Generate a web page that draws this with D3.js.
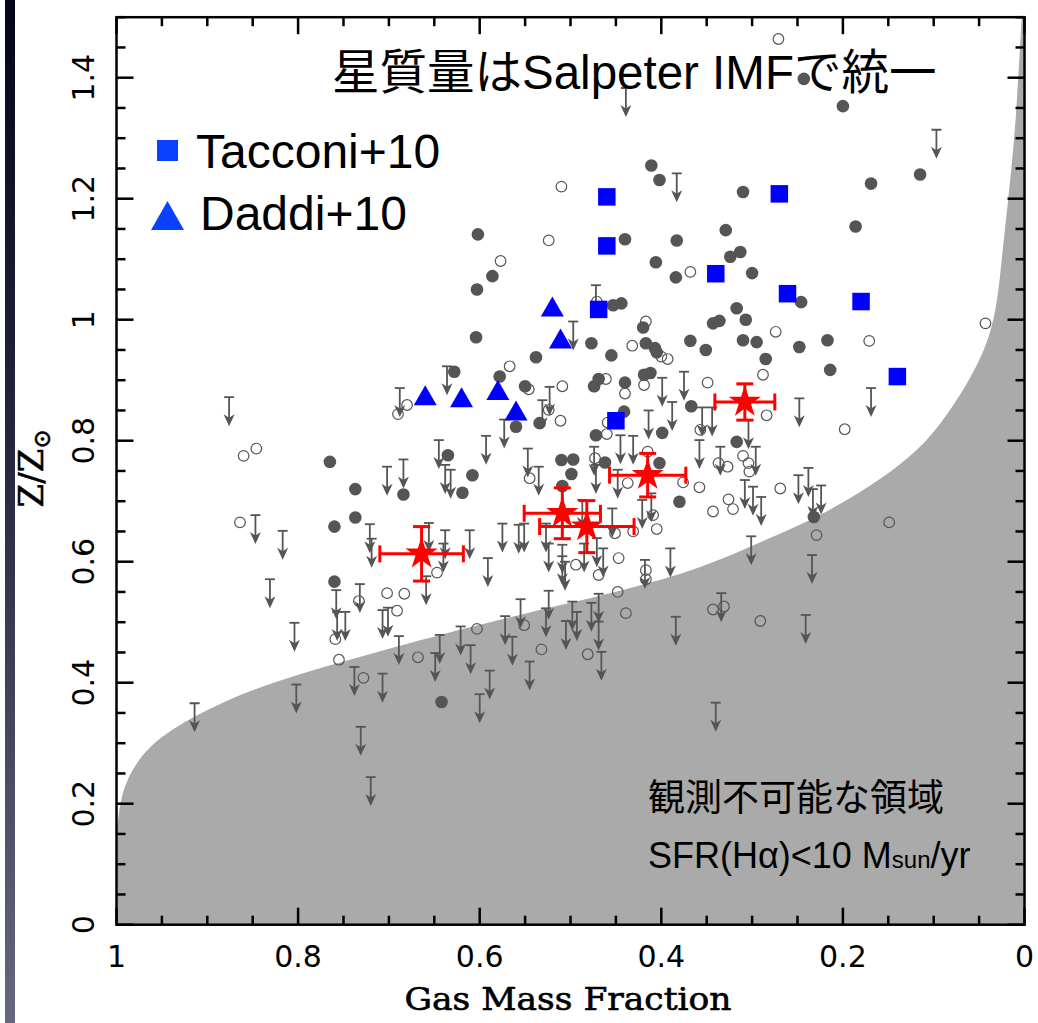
<!DOCTYPE html>
<html>
<head>
<meta charset="utf-8">
<script src="https://cdn.jsdelivr.net/npm/d3@7"></script>
<style>
  html, body { margin: 0; padding: 0; background: #fff; }
  svg { display: block; }
</style>
</head>
<body>
<svg id="chart" width="1038" height="1023"></svg>
<script>
// ---- data: [gas mass fraction, Z/Zsun] ----
const detected = [
  [0.411,1.255],[0.402,1.231],[0.440,1.133],[0.383,1.131],[0.602,1.141],[0.586,1.072],
  [0.603,1.050],[0.406,1.095],[0.384,1.070],[0.453,1.024],[0.444,1.027],[0.420,0.987],
  [0.604,0.971],[0.477,0.961],[0.417,0.961],[0.407,0.953],[0.243,1.398],[0.200,1.353],
  [0.115,1.240],[0.169,1.225],[0.310,1.211],[0.186,1.154],[0.329,1.148],[0.324,1.104],
  [0.313,1.112],[0.300,1.077],[0.246,1.029],[0.317,1.019],[0.343,0.994],[0.336,0.998],
  [0.307,1.000],[0.368,0.965],[0.351,0.950],[0.310,0.966],[0.295,0.963],[0.248,0.955],
  [0.217,0.966],[0.285,0.935],[0.214,0.917],[0.232,0.674],[0.642,0.368],[0.765,0.765],
  [0.737,0.720],[0.684,0.711],[0.635,0.776],[0.760,0.658],[0.737,0.673],[0.760,0.567],
  [0.405,0.946],[0.538,0.938],[0.455,0.941],[0.628,0.914],[0.578,0.906],[0.550,0.890],
  [0.474,0.890],[0.469,0.902],[0.440,0.896],[0.419,0.909],[0.412,0.912],[0.560,0.823],
  [0.534,0.829],[0.441,0.848],[0.472,0.809],[0.399,0.813],[0.367,0.857],[0.317,0.798],
  [0.608,0.743],[0.619,0.714],[0.510,0.768],[0.497,0.769],[0.499,0.745],[0.462,0.764],
  [0.402,0.763],[0.380,0.699],[0.509,0.725]
];

const lowSN = [
  [0.510,1.220],[0.524,1.131],[0.577,1.097],[0.471,1.030],[0.417,0.997],[0.432,0.957],
  [0.271,1.464],[0.368,1.079],[0.043,0.994],[0.274,0.980],[0.171,0.965],[0.288,0.909],
  [0.284,0.842],[0.198,0.819],[0.269,0.721],[0.149,0.665],[0.229,0.644],[0.291,0.502],
  [0.668,0.442],[0.481,0.447],[0.532,0.455],[0.755,0.438],[0.728,0.408],[0.690,0.844],
  [0.680,0.859],[0.860,0.775],[0.846,0.787],[0.864,0.665],[0.647,0.582],[0.733,0.535],
  [0.702,0.548],[0.683,0.547],[0.691,0.519],[0.759,0.472],[0.400,0.939],[0.393,0.935],
  [0.567,0.923],[0.546,0.885],[0.509,0.890],[0.461,0.902],[0.440,0.878],[0.419,0.892],
  [0.349,0.896],[0.524,0.851],[0.511,0.833],[0.459,0.830],[0.460,0.811],[0.357,0.818],
  [0.545,0.738],[0.473,0.771],[0.415,0.782],[0.437,0.730],[0.376,0.731],[0.358,0.723],
  [0.337,0.763],[0.327,0.757],[0.310,0.775],[0.304,0.763],[0.303,0.749],[0.326,0.703],
  [0.321,0.687],[0.343,0.683],[0.409,0.677],[0.405,0.654],[0.431,0.650],[0.451,0.647],
  [0.494,0.595],[0.469,0.578],[0.447,0.606],[0.417,0.586],[0.417,0.571],[0.448,0.550],
  [0.551,0.495],[0.439,0.515],[0.603,0.489],[0.343,0.521],[0.331,0.526]
];

const upperLimits = [
  [0.383,1.242],[0.439,1.383],[0.472,1.057],[0.497,0.997],[0.097,1.314],[0.248,0.870],
  [0.169,0.887],[0.249,0.743],[0.238,0.755],[0.233,0.720],[0.224,0.726],[0.290,0.707],
  [0.234,0.611],[0.241,0.512],[0.340,0.367],[0.600,0.381],[0.707,0.415],[0.649,0.449],
  [0.589,0.420],[0.545,0.435],[0.466,0.451],[0.914,0.366],[0.802,0.397],[0.738,0.426],
  [0.731,0.327],[0.720,0.244],[0.876,0.872],[0.688,0.887],[0.636,0.923],[0.702,0.757],
  [0.684,0.769],[0.645,0.801],[0.638,0.760],[0.847,0.677],[0.817,0.651],[0.721,0.662],
  [0.719,0.638],[0.656,0.664],[0.638,0.652],[0.640,0.630],[0.831,0.571],[0.758,0.553],
  [0.732,0.563],[0.659,0.576],[0.757,0.517],[0.748,0.517],[0.707,0.520],[0.701,0.524],
  [0.804,0.499],[0.689,0.477],[0.644,0.479],[0.399,0.904],[0.375,0.914],[0.523,0.889],
  [0.531,0.867],[0.414,0.850],[0.388,0.864],[0.355,0.855],[0.344,0.855],[0.304,0.834],
  [0.573,0.835],[0.632,0.752],[0.593,0.808],[0.547,0.787],[0.535,0.757],[0.474,0.790],
  [0.472,0.760],[0.445,0.809],[0.431,0.808],[0.448,0.752],[0.358,0.801],[0.335,0.790],
  [0.296,0.790],[0.308,0.735],[0.299,0.724],[0.421,0.702],[0.411,0.713],[0.454,0.688],
  [0.487,0.702],[0.527,0.663],[0.551,0.663],[0.557,0.661],[0.575,0.663],[0.611,0.652],
  [0.591,0.606],[0.524,0.630],[0.509,0.628],[0.509,0.609],[0.506,0.600],[0.485,0.630],
  [0.464,0.622],[0.471,0.639],[0.418,0.603],[0.390,0.622],[0.301,0.642],[0.524,0.552],
  [0.555,0.538],[0.498,0.534],[0.493,0.517],[0.505,0.502],[0.477,0.532],[0.469,0.547],
  [0.469,0.501],[0.527,0.523],[0.572,0.510],[0.564,0.476],[0.621,0.493],[0.610,0.462],
  [0.384,0.509],[0.334,0.548]
];

const tacconi = [
  [0.460,1.203],[0.460,1.122],[0.469,1.017],[0.450,0.833],[0.340,1.076],
  [0.270,1.208],[0.261,1.043],[0.180,1.030],[0.140,0.906]
];

const daddi = [
  [0.660,0.875],[0.620,0.872],[0.580,0.884],[0.560,0.850],[0.520,1.022],[0.511,0.969]
];

// stacked points: [fraction, Z, fraction error, Z error]
const stacked = [
  [0.664,0.613,0.046,0.045],
  [0.509,0.680,0.042,0.042],
  [0.482,0.658,0.052,0.043],
  [0.415,0.743,0.042,0.036],
  [0.308,0.864,0.033,0.030]
];

// SFR(Hα) = 10 Msun/yr detection limit
const limitCurve = [
  [1.000,0.150],[0.998,0.176],[0.995,0.205],[0.990,0.231],[0.982,0.256],[0.971,0.280],
  [0.956,0.303],[0.926,0.334],[0.890,0.362],[0.853,0.386],[0.798,0.414],[0.743,0.438],
  [0.688,0.461],[0.633,0.483],[0.545,0.516],[0.435,0.556],[0.361,0.589],[0.291,0.632],
  [0.218,0.683],[0.145,0.752],[0.108,0.801],[0.071,0.876],[0.045,0.950],[0.033,1.010],
  [0.022,1.143],[0.011,1.308],[0.004,1.474],[0.003,1.500]
];

const xTicks = [1, 0.8, 0.6, 0.4, 0.2, 0];
const xTickLabels = ["1", "0.8", "0.6", "0.4", "0.2", "0"];
const yTicks = [0, 0.2, 0.4, 0.6, 0.8, 1, 1.2, 1.4];
const yTickLabels = ["0", "0.2", "0.4", "0.6", "0.8", "1", "1.2", "1.4"];
const xMinor = d3.range(0, 21).map(i => i * 0.05);
const yMinor = d3.range(0, 31).map(i => i * 0.05);

// ---- layout ----
const svg = d3.select("#chart");
const x = d3.scaleLinear().domain([1, 0]).range([116.5, 1024.5]);
const y = d3.scaleLinear().domain([0, 1.5]).range([924.7, 17.2]);
const X0 = x(1), X1 = x(0), Y0 = y(0), Y1 = y(1.5);

const grey = "#555555";
const blue = "#0000ff";
const red = "#ff0000";

// dark strip on the left edge
const defs = svg.append("defs");
const grad = defs.append("linearGradient").attr("id", "strip")
  .attr("x1", 0).attr("y1", 0).attr("x2", 0).attr("y2", 1);
grad.append("stop").attr("offset", "0%").attr("stop-color", "#04041a");
grad.append("stop").attr("offset", "45%").attr("stop-color", "#27273f");
grad.append("stop").attr("offset", "100%").attr("stop-color", "#67677f");
svg.append("rect").attr("x", 5).attr("y", 0).attr("width", 10).attr("height", 1023)
  .attr("fill", "url(#strip)");

defs.append("clipPath").attr("id", "plotclip").append("rect")
  .attr("x", X0).attr("y", Y1).attr("width", X1 - X0).attr("height", Y0 - Y1);

const plot = svg.append("g").attr("clip-path", "url(#plotclip)");

// unobservable region below the limit curve
const curve = d3.line().x(d => x(d[0])).y(d => y(d[1])).curve(d3.curveCatmullRom.alpha(0.5));
plot.append("path")
  .attr("d", curve(limitCurve) + `L${x(0)},${y(1.5)}L${x(0)},${y(0)}L${x(1)},${y(0)}Z`)
  .attr("fill", "#aaaaaa");

// upper limits
const L = 29;
const ul = plot.append("g").selectAll("g").data(upperLimits).join("g")
  .attr("transform", d => `translate(${x(d[0])},${y(d[1])})`);
ul.append("line").attr("x1", -5).attr("x2", 5).attr("y1", 0).attr("y2", 0)
  .attr("stroke", grey).attr("stroke-width", 1.8);
ul.append("line").attr("x1", 0).attr("x2", 0).attr("y1", 0).attr("y2", L - 7)
  .attr("stroke", grey).attr("stroke-width", 1.8);
ul.append("path").attr("d", `M0,${L}L-5.5,${L - 12}L0,${L - 8.5}L5.5,${L - 12}Z`)
  .attr("fill", grey);

// low S/N detections (open)
plot.append("g").selectAll("circle").data(lowSN).join("circle")
  .attr("cx", d => x(d[0])).attr("cy", d => y(d[1])).attr("r", 5.3)
  .attr("fill", "none").attr("stroke", grey).attr("stroke-width", 1.2);

// detections (filled)
plot.append("g").selectAll("circle").data(detected).join("circle")
  .attr("cx", d => x(d[0])).attr("cy", d => y(d[1])).attr("r", 6.3)
  .attr("fill", grey);

// Tacconi+10
const sq = 17.5;
plot.append("g").selectAll("rect").data(tacconi).join("rect")
  .attr("x", d => x(d[0]) - sq / 2).attr("y", d => y(d[1]) - sq / 2)
  .attr("width", sq).attr("height", sq).attr("fill", blue);

// Daddi+10
const triPath = (w, h) => `M0,${-h / 2}L${w / 2},${h / 2}L${-w / 2},${h / 2}Z`;
plot.append("g").selectAll("path").data(daddi).join("path")
  .attr("transform", d => `translate(${x(d[0])},${y(d[1])})`)
  .attr("d", triPath(23, 20)).attr("fill", blue);

// stacked points with error bars
const eb = plot.append("g").attr("stroke", red).attr("stroke-width", 3).attr("fill", "none");
const cap = 8.5;
stacked.forEach(d => {
  const cx = x(d[0]), cy = y(d[1]);
  const xa = x(d[0] + d[2]), xb = x(d[0] - d[2]);
  const ya = y(d[1] + d[3]), yb = y(d[1] - d[3]);
  eb.append("line").attr("x1", xa).attr("x2", xb).attr("y1", cy).attr("y2", cy);
  eb.append("line").attr("x1", xa).attr("x2", xa).attr("y1", cy - cap).attr("y2", cy + cap);
  eb.append("line").attr("x1", xb).attr("x2", xb).attr("y1", cy - cap).attr("y2", cy + cap);
  eb.append("line").attr("x1", cx).attr("x2", cx).attr("y1", ya).attr("y2", yb);
  eb.append("line").attr("x1", cx - cap).attr("x2", cx + cap).attr("y1", ya).attr("y2", ya);
  eb.append("line").attr("x1", cx - cap).attr("x2", cx + cap).attr("y1", yb).attr("y2", yb);
});
plot.append("g").selectAll("path").data(stacked).join("path")
  .attr("transform", d => `translate(${x(d[0])},${y(d[1])})`)
  .attr("d", d3.symbol(d3.symbolStar, 320)()).attr("fill", red);

// ---- frame and ticks ----
const axes = svg.append("g").attr("stroke", "#000").attr("stroke-width", 2.5);
const isMajor = v => Math.abs(v * 5 - Math.round(v * 5)) < 1e-6;
xMinor.forEach(v => {
  const len = isMajor(v) ? 17 : 9;
  axes.append("line").attr("x1", x(v)).attr("x2", x(v)).attr("y1", Y0).attr("y2", Y0 - len);
  axes.append("line").attr("x1", x(v)).attr("x2", x(v)).attr("y1", Y1).attr("y2", Y1 + len);
});
yMinor.forEach(v => {
  const len = isMajor(v) ? 17 : 9;
  axes.append("line").attr("x1", X0).attr("x2", X0 + len).attr("y1", y(v)).attr("y2", y(v));
  axes.append("line").attr("x1", X1).attr("x2", X1 - len).attr("y1", y(v)).attr("y2", y(v));
});
svg.append("rect").attr("x", X0).attr("y", Y1).attr("width", X1 - X0).attr("height", Y0 - Y1)
  .attr("fill", "none").attr("stroke", "#000").attr("stroke-width", 2.5);

// tick labels
const tickFont = "'DejaVu Sans', sans-serif";
svg.append("g").selectAll("text").data(xTicks).join("text")
  .attr("x", d => x(d)).attr("y", 967)
  .attr("text-anchor", "middle").attr("font-family", tickFont).attr("font-size", 30)
  .text((d, i) => xTickLabels[i]);
svg.append("g").selectAll("text").data(yTicks).join("text")
  .attr("transform", d => `translate(94,${y(d)}) rotate(-90)`)
  .attr("text-anchor", "middle").attr("font-family", tickFont).attr("font-size", 30)
  .text((d, i) => yTickLabels[i]);

// axis titles
svg.append("text").attr("x", 568).attr("y", 1010).attr("text-anchor", "middle")
  .attr("font-family", "'DejaVu Serif', serif").attr("font-size", 31)
  .attr("stroke", "#000").attr("stroke-width", 0.6)
  .attr("textLength", 327).attr("lengthAdjust", "spacingAndGlyphs")
  .text("Gas Mass Fraction");
const yt = svg.append("text").attr("transform", "translate(43,468) rotate(-90)")
  .attr("text-anchor", "middle").attr("font-family", "'DejaVu Serif', serif")
  .attr("font-size", 34).attr("stroke", "#000").attr("stroke-width", 0.5);
yt.append("tspan").text("Z/Z");
yt.append("tspan").attr("font-size", 24).attr("dy", 7).text("⊙");

// annotations
const jp = "'Liberation Sans', 'Noto Sans CJK JP', sans-serif";
svg.append("text").attr("x", 332).attr("y", 89).attr("font-family", jp).attr("font-size", 47.5)
  .text("星質量はSalpeter IMFで統一");
svg.append("text").attr("x", 648).attr("y", 811).attr("font-family", jp).attr("font-size", 37)
  .text("観測不可能な領域");
const sfr = svg.append("text").attr("x", 648).attr("y", 868).attr("font-family", jp)
  .attr("font-size", 36);
sfr.append("tspan").text("SFR(Hα)<10 M");
sfr.append("tspan").attr("font-size", 24).text("sun");
sfr.append("tspan").text("/yr");

// legend
svg.append("rect").attr("x", 157).attr("y", 140).attr("width", 21).attr("height", 21)
  .attr("fill", "#0a40ff");
svg.append("path").attr("transform", "translate(167.5,215.5)").attr("d", triPath(33, 29))
  .attr("fill", "#0a40ff");
svg.append("text").attr("x", 196).attr("y", 168).attr("font-family", jp).attr("font-size", 48)
  .text("Tacconi+10");
svg.append("text").attr("x", 200).attr("y", 230).attr("font-family", jp).attr("font-size", 48)
  .text("Daddi+10");
</script>
</body>
</html>
